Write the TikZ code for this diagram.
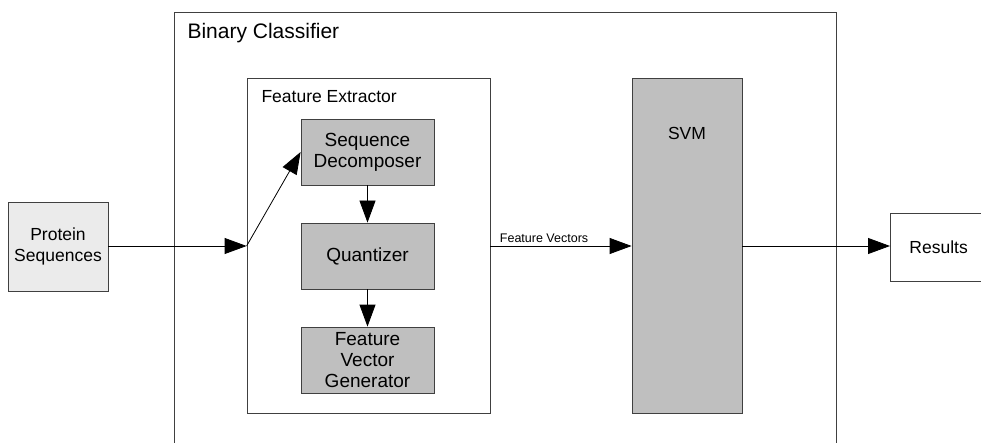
\documentclass[tikz,border=0pt]{standalone}
\usepackage{fontspec}
\setmainfont{Liberation Sans}
\usetikzlibrary{arrows.meta}
\begin{document}
\begin{tikzpicture}[x=1pt,y=-1pt,
  box/.style={draw=black!75, line width=0.8pt},
  inner/.style={box, fill=black!25, minimum width=133pt, minimum height=66pt, align=center, font=\fontsize{19}{21}\selectfont, inner sep=0pt},
  conn/.style={line width=0.8pt, -{Triangle[length=22pt,width=16pt]}}]
\useasboundingbox (0,0) rectangle (981,443);
\begin{scope}
\clip (0,0) rectangle (981,443);
\draw[box] (174,460) -- (174,12) -- (836,12) -- (836,460);
\end{scope}
\node[anchor=west, font=\fontsize{21}{24}\selectfont] (bctitle) at (184,33) {Binary Classifier};
\node[box, fill=black!8, minimum width=100pt, minimum height=89pt, align=center, font=\fontsize{17.5}{20.5}\selectfont, inner sep=0pt] (prot) at (58,246.5) {Protein\\Sequences};
\node[box, minimum width=243pt, minimum height=335pt, inner sep=0pt] (fe) at (368.5,245.5) {};
\node[anchor=west, font=\fontsize{17.5}{20}\selectfont] (fetitle) at (258,97) {Feature Extractor};
\node[inner] (sd) at (367.5,152) {Sequence\\Decomposer};
\node[inner] (qz) at (367.5,256) {Quantizer};
\node[inner] (fvg) at (367.5,360) {Feature\\Vector\\Generator};
\node[box, fill=black!25, minimum width=110pt, minimum height=335pt, inner sep=0pt] (svm) at (687,245.5) {};
\node[font=\fontsize{17.5}{20}\selectfont] (svmlabel) at (svm.center |- 0,133) {SVM};
\node[box, fill=white, minimum width=100pt, minimum height=68pt, anchor=west, font=\fontsize{17.5}{20}\selectfont, inner sep=0pt, text width=100pt, align=left] (res) at (890,247) {\hspace{19pt}Results};
\coordinate (split) at (fe.west |- 0,246);
\draw[conn] (prot.east |- split) -- (split);
\draw[conn] (split) -- (sd.west);
\draw[conn] (sd) -- (qz);
\draw[conn] (qz) -- (fvg);
\draw[conn] (fe.east |- 0,246) -- node[above, font=\fontsize{12.5}{14}\selectfont, pos=0.38] {Feature Vectors} (svm.west |- 0,246);
\draw[conn] (svm.east |- 0,246) -- (res.west |- 0,246);
\end{tikzpicture}
\end{document}
